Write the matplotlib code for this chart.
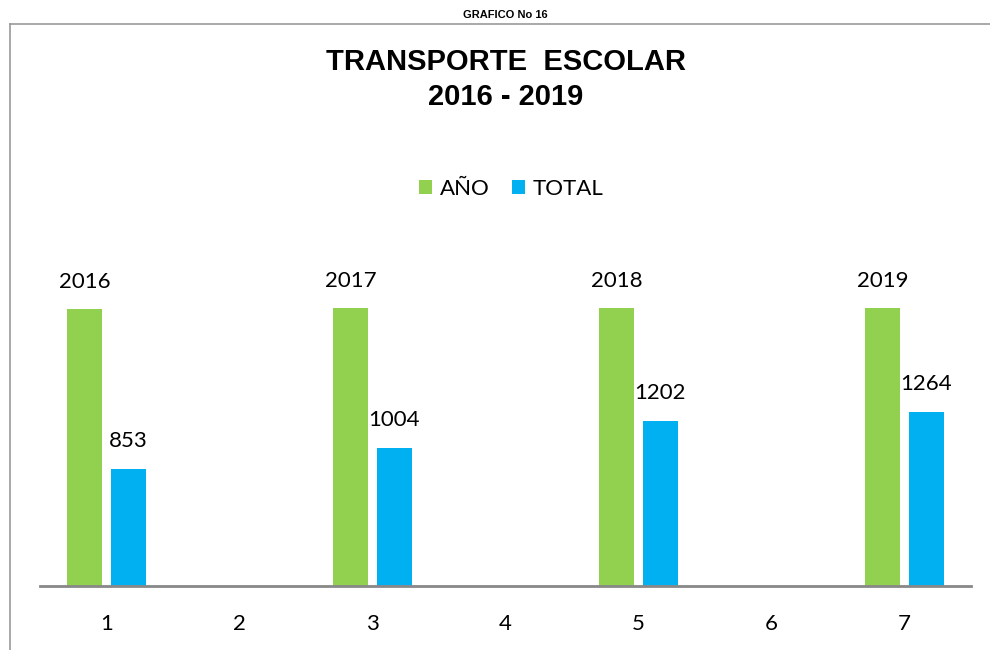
import matplotlib.pyplot as plt
from matplotlib.lines import Line2D
import numpy as np

# data
categories = [1, 2, 3, 4, 5, 6, 7]
bar_positions = [1, 3, 5, 7]
anio = [2016, 2017, 2018, 2019]
total = [853, 1004, 1202, 1264]

green = '#92D050'
blue = '#00B0F0'
label_font = 'Lato'

fig = plt.figure(figsize=(9.9, 6.5), dpi=100)
ax = fig.add_axes([40 / 990, 1 - 586 / 650, 931 / 990, 344 / 650])

w = 0.263
off = 0.165
x = np.array(bar_positions)
ax.bar(x - off, anio, width=w, color=green, label='AÑO')
ax.bar(x + off, total, width=w, color=blue, label='TOTAL')

for xi, v in zip(x, anio):
    ax.annotate(str(v), (xi - off, v), xytext=(0, 27), textcoords='offset pixels',
                ha='center', va='center', fontsize=16, family=label_font)
for xi, v in zip(x, total):
    ax.annotate(str(v), (xi + off, v), xytext=(0, 28), textcoords='offset pixels',
                ha='center', va='center', fontsize=16, family=label_font)

ax.set_xlim(0.5, 7.5)
ax.set_ylim(0, 2500)
ax.set_xticks(categories)
ax.set_xticklabels([str(c) for c in categories], fontsize=16, family=label_font)
ax.tick_params(axis='x', length=0, pad=20)
ax.set_yticks([])
for s in ['top', 'right', 'left']:
    ax.spines[s].set_visible(False)
ax.spines['bottom'].set_color('#888888')
ax.spines['bottom'].set_linewidth(2)

leg = fig.legend(loc='center', bbox_to_anchor=(511 / 990, 1 - 189 / 650), ncol=2,
                 frameon=False, handlelength=0.6, handleheight=0.6,
                 handletextpad=0.35, columnspacing=1.0,
                 prop={'family': label_font, 'size': 16})

fig.text(505 / 990, 1 - 15 / 650, 'GRAFICO No 16', ha='center', va='center',
         fontsize=8, fontweight='bold', family='Liberation Sans')
fig.text(506 / 990, 1 - 62 / 650, 'TRANSPORTE  ESCOLAR', ha='center', va='center',
         fontsize=21, fontweight='bold', family='Liberation Sans')
fig.text(506 / 990, 1 - 97 / 650, '2016 - 2019', ha='center', va='center',
         fontsize=21, fontweight='bold', family='Liberation Sans')

# outer frame (left and top edges only)
fig.add_artist(Line2D([10 / 990, 10 / 990], [0, 1 - 24 / 650], color='#999999', lw=1.2))
fig.add_artist(Line2D([10 / 990, 1], [1 - 24 / 650, 1 - 24 / 650], color='#999999', lw=1.2))

fig.savefig('out.png', dpi=100)
